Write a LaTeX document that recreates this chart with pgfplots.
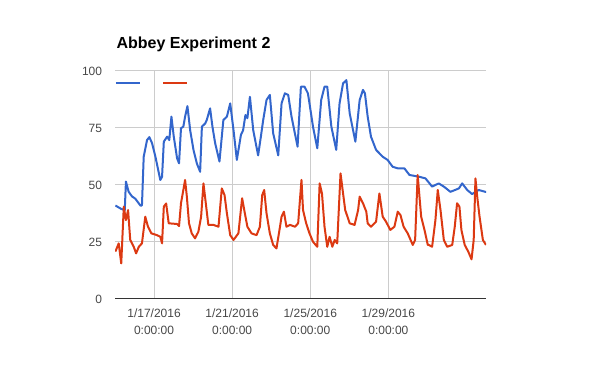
\documentclass[border=0pt]{standalone}
\usepackage{pgfplots}
\pgfplotsset{compat=1.18}
\usepackage{pgfplotstable}
\usepackage{fontspec}
\setmainfont{Liberation Sans}
\definecolor{gblue}{HTML}{3366CC}
\definecolor{gred}{HTML}{DC3912}
\pgfplotstableread{
x y
0.02 41
0.32 39.5
0.50 39
0.56 51.5
0.70 47
0.87 45
1.04 44
1.30 41
1.38 41
1.47 62.4
1.64 69.7
1.76 71
1.90 68.3
2.07 62.4
2.32 52.2
2.41 53.6
2.50 69
2.67 71.2
2.78 69.7
2.89 80
3.01 71.2
3.18 61.7
3.28 59.5
3.38 74.9
3.50 75.6
3.59 80
3.71 84.6
3.85 74
4.02 65.4
4.19 59.5
4.36 55.8
4.45 75.6
4.62 77
4.70 78.5
4.87 83.6
4.99 75.6
5.13 68.3
5.35 60.3
5.55 78.5
5.73 80
5.90 85.8
6.07 74
6.24 61
6.45 72
6.56 74
6.68 80.7
6.78 79.3
6.91 88.7
7.08 74
7.33 63
7.47 71.2
7.59 78.5
7.76 87.3
7.93 89.5
8.10 72.7
8.36 63
8.53 85.8
8.70 90.2
8.87 89.5
9.04 80
9.35 66.8
9.52 93.1
9.71 93.1
9.88 90.2
9.96 85.8
10.14 75.6
10.36 66.1
10.56 87.3
10.73 93.1
10.87 93.1
11.08 75.6
11.33 65.4
11.50 85.8
11.68 94.6
11.85 96
12.02 81.4
12.31 69
12.53 87.3
12.70 91.7
12.80 90.2
12.94 80
13.11 71.2
13.37 65.4
13.71 62.4
13.96 61
14.22 58
14.48 57.3
14.82 57.3
15.08 54.4
15.59 53.6
15.90 52.9
16.24 49.3
16.58 50.7
16.84 49.3
17.18 47
17.61 48.5
17.78 50.7
18.04 47.8
18.29 46
18.46 47
18.63 47.8
18.97 47
19.00 47
}\bluedata
\pgfplotstableread{
x y
0.02 20.8
0.19 24.4
0.32 15.6
0.45 40.5
0.56 34.6
0.67 39
0.78 25.9
0.96 22.9
1.08 20
1.22 22.9
1.38 24.4
1.55 36.1
1.69 31.7
1.86 28.8
2.15 28
2.32 27.3
2.41 24.4
2.50 40.5
2.62 41.9
2.75 33.2
3.18 32.9
3.28 32
3.38 42
3.50 47.8
3.59 52.2
3.68 44.9
3.79 33.2
3.93 28.8
4.10 26.6
4.27 29.5
4.41 36.1
4.53 50.7
4.67 40.5
4.78 32.5
5.04 32.5
5.30 31.7
5.47 48.5
5.61 45.6
5.73 37.6
5.90 28
6.07 25.9
6.32 28.8
6.51 44.2
6.65 37.6
6.78 31.7
6.99 28.8
7.25 28
7.42 31.7
7.54 45.6
7.64 47.8
7.76 37.6
7.93 28.8
8.10 23.7
8.27 22.2
8.45 31.7
8.53 36.1
8.65 38.3
8.78 31.7
8.96 32.5
9.22 31.7
9.38 33.2
9.55 52.2
9.63 39
9.79 33.2
9.96 28.8
10.14 25.1
10.36 22.9
10.48 50.7
10.60 46.3
10.73 31.7
10.87 22.9
10.99 27.3
11.13 22.9
11.25 25.9
11.38 24.4
11.55 55.1
11.68 46.3
11.79 39
12.02 33.2
12.27 32.5
12.45 39
12.53 44.9
12.70 42
12.87 38.3
12.94 33.2
13.11 31.7
13.37 33.9
13.54 46.3
13.71 36.1
13.88 33.9
14.10 30.3
14.31 31.7
14.48 38.3
14.62 36.8
14.78 31.7
14.99 28.8
15.25 23.7
15.37 25.9
15.50 54.4
15.68 36.1
15.85 30.3
16.02 23.7
16.07 23.7
16.24 22.9
16.41 34.6
16.53 47.8
16.67 39
16.84 25.9
17.01 22.9
17.27 23.7
17.40 31.7
17.52 42
17.64 40.5
17.74 30.3
17.91 23.7
18.09 20.8
18.26 17.4
18.37 25.9
18.46 52.9
18.55 44.9
18.67 36.1
18.84 25.9
19.00 23.7
}\reddata
\begin{document}
\begin{tikzpicture}
\path[use as bounding box] (-86.25pt,-54pt) rectangle (363.75pt,224.25pt);
\begin{axis}[
  at={(0,0)}, anchor=south west,
  scale only axis,
  width=278.25pt, height=171pt,
  xmin=0, xmax=19, ymin=0, ymax=100,
  xtick={2,6,10,14},
  xticklabels={{1/17/2016\\0:00:00},{1/21/2016\\0:00:00},{1/25/2016\\0:00:00},{1/29/2016\\0:00:00}},
  ytick={0,25,50,75,100},
  /pgf/number format/assume math mode=true,
  major tick length=0pt,
  axis line style={draw=none},
  grid=major,
  major grid style={draw=black!20, line width=0.75pt},
  extra y ticks={0},
  extra y tick labels={},
  extra y tick style={grid=major, major grid style={draw=black!80, line width=0.75pt}},
  xticklabel style={inner sep=0pt, anchor=north, yshift=-7.3pt, align=center,
    font=\fontsize{9}{12.75}\selectfont, text=black!72},
  yticklabel style={inner sep=0pt, anchor=east, xshift=-9.5pt,
    font=\fontsize{9}{11}\selectfont, text=black!72},
  title={Abbey Experiment 2},
  title style={at={(0,1)}, anchor=base west, yshift=10.9pt, xshift=1pt, inner sep=0pt,
    font=\bfseries\fontsize{12}{14}\selectfont},
  legend style={at={(0,1)}, anchor=west, yshift=-9pt, draw=none, fill=none,
    inner sep=0pt, outer sep=0pt, nodes={inner sep=0pt, outer sep=0pt},
    /tikz/every even column/.append style={column sep=15pt}},
  legend columns=-1,
  legend image code/.code={\draw[#1, line width=1.5pt] (0pt,0pt) -- (18pt,0pt);},
  every axis plot/.append style={line width=1.5pt, line join=round, no marks},
]
\addplot[gblue] table[x=x, y=y] {\bluedata};
\addlegendentry{}
\addplot[gred] table[x=x, y=y] {\reddata};
\addlegendentry{}
\end{axis}
\end{tikzpicture}
\end{document}
